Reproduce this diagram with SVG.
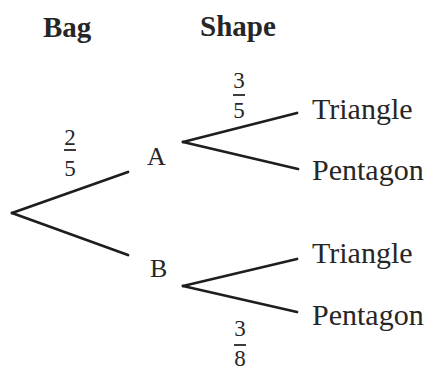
<svg xmlns="http://www.w3.org/2000/svg" width="432" height="372" viewBox="0 0 432 372">
<style>
text{font-family:"Liberation Serif","DejaVu Serif",serif;fill:#262626}
.h{font-weight:bold;font-size:29px}
.n{font-size:26px}
.o{font-size:30px}
.f{font-size:23px;text-anchor:middle}
.e line{stroke:#1e1e1e;stroke-width:2.8;stroke-linecap:round}
.bar{stroke:#262626;stroke-width:1.8}
</style>
<rect width="432" height="372" fill="#fff"/>
<g id="headers">
<text class="h" x="43" y="37">Bag</text>
<text class="h" x="200" y="36">Shape</text>
</g>
<g class="e" id="connectors">
<line x1="12" y1="213" x2="128" y2="172"/>
<line x1="12" y1="213" x2="128" y2="255"/>
<line x1="183" y1="142" x2="297" y2="113"/>
<line x1="183" y1="142" x2="298" y2="169"/>
<line x1="183" y1="286" x2="297" y2="259"/>
<line x1="183" y1="286" x2="297" y2="312"/>
</g>
<g id="p-A">
<text class="f" x="70" y="145">2</text>
<line class="bar" x1="64" y1="150" x2="76" y2="150"/>
<text class="f" x="70" y="176">5</text>
</g>
<g id="p-AT">
<text class="f" x="239" y="88">3</text>
<line class="bar" x1="233" y1="95" x2="245" y2="95"/>
<text class="f" x="239" y="118">5</text>
</g>
<g id="p-BP">
<text class="f" x="240" y="336">3</text>
<line class="bar" x1="234" y1="345" x2="246" y2="345"/>
<text class="f" x="240" y="366">8</text>
</g>
<g id="node-A"><text class="n" x="147" y="165">A</text></g>
<g id="node-B"><text class="n" x="150" y="277">B</text></g>
<g id="node-AT"><text class="o" x="312" y="119">Triangle</text></g>
<g id="node-AP"><text class="o" x="312" y="180">Pentagon</text></g>
<g id="node-BT"><text class="o" x="312" y="263">Triangle</text></g>
<g id="node-BP"><text class="o" x="312" y="325">Pentagon</text></g>
</svg>
